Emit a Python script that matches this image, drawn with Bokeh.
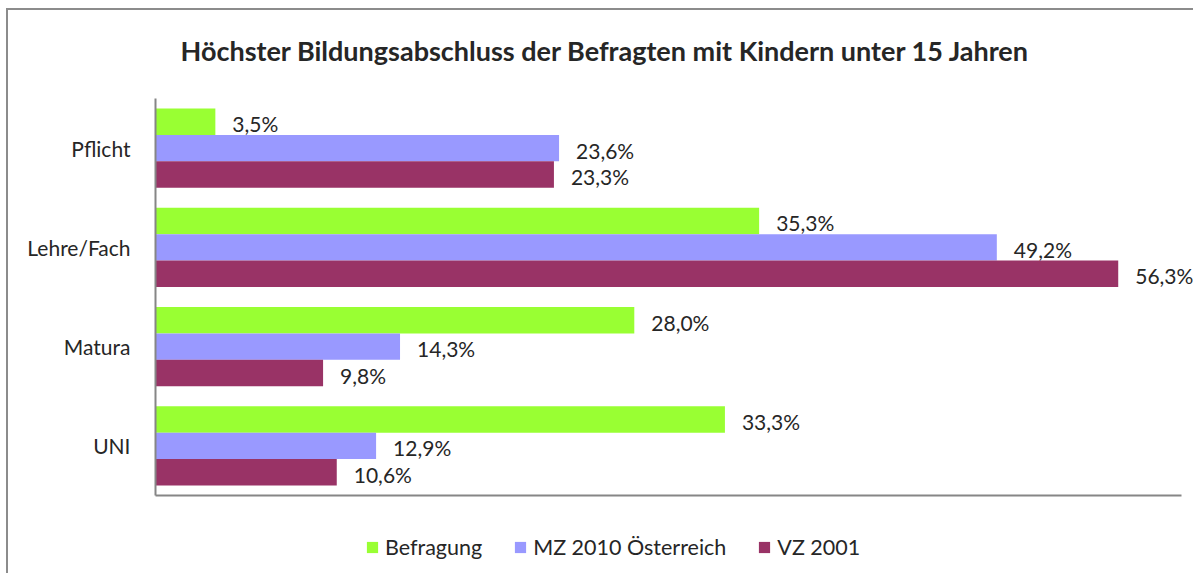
from bokeh.plotting import figure
from bokeh.layouts import column
from bokeh.models import (FactorRange, Range1d, Legend, LegendItem, ColumnDataSource,
                          Title, FixedTicker)
from bokeh.transform import dodge
from bokeh.core.properties import value
from bokeh.embed import file_html
from bokeh.resources import INLINE

# ---- data ----
categories = ["Pflicht", "Lehre/Fach", "Matura", "UNI"]
series_names = ["Befragung", "MZ 2010 Österreich", "VZ 2001"]
befragung = [3.5, 35.3, 28.0, 33.3]
mz2010 = [23.6, 49.2, 14.3, 12.9]
vz2001 = [23.3, 56.3, 9.8, 10.6]
colors = ["#99FF33", "#9999FF", "#993366"]
title_text = "Höchster Bildungsabschluss der Befragten mit Kindern unter 15 Jahren"

FONT = "Lato"
TEXT_COLOR = "#262626"
AXIS_COLOR = "#868686"
BORDER = "#8c8c8c"

W = 1193
H_MAIN, H_LEG = 520, 53
LEFT = 155          # frame left (px)
AXIS_END = 1181     # where the value axis line ends (px)
AXIS_MAX = 60       # value at AXIS_END

p = figure(width=W, height=H_MAIN,
           y_range=FactorRange(factors=categories[::-1]),
           x_range=Range1d(0, AXIS_MAX * (W - LEFT) / (AXIS_END - LEFT)),
           output_backend="svg", toolbar_location=None,
           min_border_left=LEFT, min_border_right=0,
           min_border_top=98, min_border_bottom=25)
p.outline_line_color = None
p.xgrid.visible = False
p.ygrid.visible = False
p.background_fill_color = None
p.border_fill_color = None

t = Title(text=title_text, align="left", offset=25, standoff=61,
          vertical_align="middle",
          text_font=FONT, text_font_size="27px", text_font_style="bold",
          text_color=TEXT_COLOR)
p.add_layout(t, "above")

# axes
p.yaxis.axis_line_color = AXIS_COLOR
p.yaxis.axis_line_width = 2
p.yaxis.major_tick_line_color = None
p.yaxis.minor_tick_line_color = None
p.yaxis.major_label_text_font = FONT
p.yaxis.major_label_text_font_size = "21px"
p.yaxis.major_label_text_color = TEXT_COLOR
p.yaxis.major_label_standoff = 19

p.xaxis.ticker = FixedTicker(ticks=[])
p.xaxis.bounds = (0, AXIS_MAX)
p.xaxis.axis_line_color = AXIS_COLOR
p.xaxis.axis_line_width = 2
p.xaxis.major_tick_line_color = None
p.xaxis.minor_tick_line_color = None
p.xaxis.major_label_text_font_size = "0px"

bar_h = 0.266
offsets = [bar_h, 0.0, -bar_h]
all_vals = [befragung, mz2010, vz2001]
for name, vals, col, off in zip(series_names, all_vals, colors, offsets):
    src = ColumnDataSource(dict(cat=categories, val=vals,
                                label=[f"{v:.1f}".replace(".", ",") + "%" for v in vals]))
    p.hbar(y=dodge("cat", off, range=p.y_range), right="val", left=0,
           height=bar_h, source=src, fill_color=col, line_color=None)
    p.text(x="val", y=dodge("cat", off, range=p.y_range), text="label", source=src,
           x_offset=17, y_offset=2, text_baseline="middle", text_align="left",
           text_font=value(FONT), text_font_size="21px", text_color=TEXT_COLOR)

# ---- legend strip below the plot ----
pl = figure(width=W, height=H_LEG, x_range=Range1d(0, 1), y_range=Range1d(0, 1),
            output_backend="svg", toolbar_location=None,
            x_axis_type=None, y_axis_type=None, min_border=0)
pl.outline_line_color = None
pl.xgrid.visible = False
pl.ygrid.visible = False
pl.background_fill_color = None
pl.border_fill_color = None
items = []
for name, col in zip(series_names, colors):
    # legend swatch renderer, kept outside the visible range
    r = pl.hbar(y=[-10], right=[1], left=0, height=0.5, fill_color=col, line_color=None)
    items.append(LegendItem(label=name, renderers=[r]))
legend = Legend(items=items, orientation="horizontal", location=(210, 13),
                label_text_font=FONT, label_text_font_size="21.5px",
                label_text_color=TEXT_COLOR, glyph_width=14, glyph_height=14,
                label_standoff=6, spacing=31, padding=4, margin=0,
                border_line_color=None, background_fill_alpha=0)
pl.add_layout(legend, "center")

layout = column(p, pl, spacing=0)
layout.styles = {
    "background": (f"linear-gradient({BORDER},{BORDER}) 6px 8px / 2px 100% no-repeat, "
                   f"linear-gradient({BORDER},{BORDER}) 6px 8px / 100% 2px no-repeat, white"),
}

open("out.html", "w").write(file_html(layout, INLINE))
